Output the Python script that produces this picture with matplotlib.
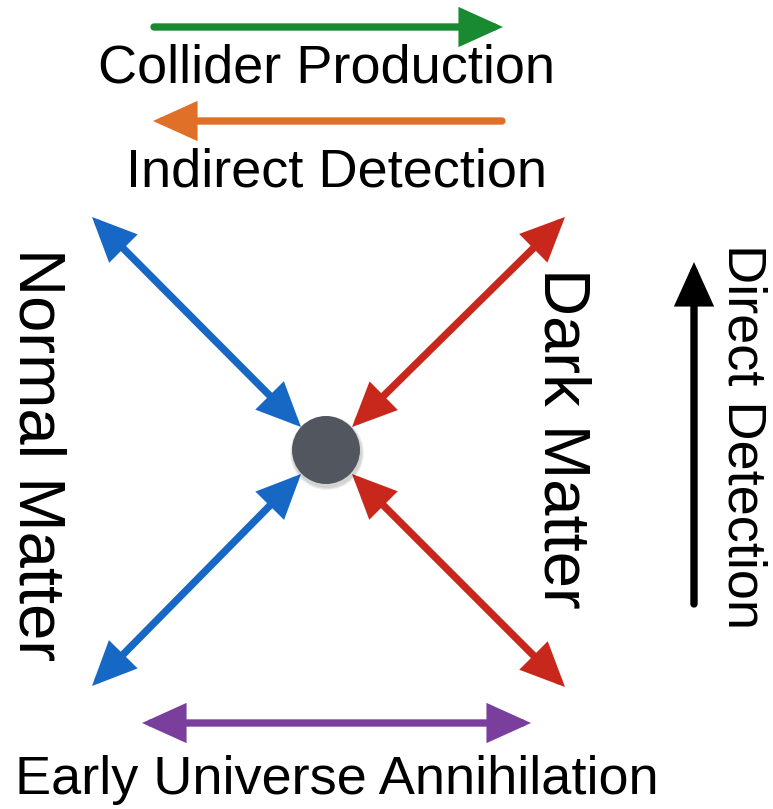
import matplotlib.pyplot as plt
from matplotlib.patches import FancyArrowPatch, Circle

plt.rcParams['font.family'] = ['Liberation Sans', 'DejaVu Sans']

# Diagram layout (pixel coordinates, y grows downward)
W, H = 773, 809
center = (326, 450)
radius = 34

# arrows: (start, end, colour, two-headed)
arrow_starts = [(154, 27), (502, 121), (92, 217), (92, 686), (565, 217), (565, 687), (142, 723), (694, 604)]
arrow_ends = [(503, 27), (153, 121), (301, 427), (301, 474), (352, 427), (352, 474), (531, 723), (694, 262)]
arrow_colors = ['#1a8a32', '#e06f28', '#1767c4', '#1767c4', '#c8281b', '#c8281b', '#7a3f9d', '#000000']
arrow_both = [False, False, True, True, True, True, True, False]

# labels: text, position, rotation, size
labels = ['Collider Production', 'Indirect Detection', 'Normal Matter', 'Dark Matter',
          'Direct Detection', 'Early Universe Annihilation']
label_pos = [(327, 68), (336, 172), (36, 455), (561, 438), (742, 436), (337, 780)]
label_rot = [0, 0, -90, -90, -90, 0]
label_size = [39, 39, 47, 47, 39, 39]

fig = plt.figure(figsize=(W / 100, H / 100), dpi=100)
ax = fig.add_axes([0, 0, 1, 1])
ax.set_xlim(0, W)
ax.set_ylim(H, 0)
ax.axis('off')

for s, e, c, both in zip(arrow_starts, arrow_ends, arrow_colors, arrow_both):
    style = '<|-|>' if both else '-|>'
    ar = FancyArrowPatch(s, e, arrowstyle=f'{style},head_length=1.15,head_width=0.52',
                         mutation_scale=20, color=c, lw=5.3, shrinkA=0, shrinkB=0,
                         joinstyle='miter')
    ax.add_patch(ar)

# soft shadow under the dot
for k, a in enumerate([0.06, 0.06, 0.06]):
    ax.add_patch(Circle((center[0] + 1, center[1] + 3), radius + 3 - k, color='black', alpha=a, lw=0))
ax.add_patch(Circle(center, radius, color='#52565e', lw=0))

for t, p, r, fs in zip(labels, label_pos, label_rot, label_size):
    ax.text(p[0], p[1], t, rotation=r, ha='center', va='center', fontsize=fs, color='black')

fig.savefig('out.png', dpi=100)
